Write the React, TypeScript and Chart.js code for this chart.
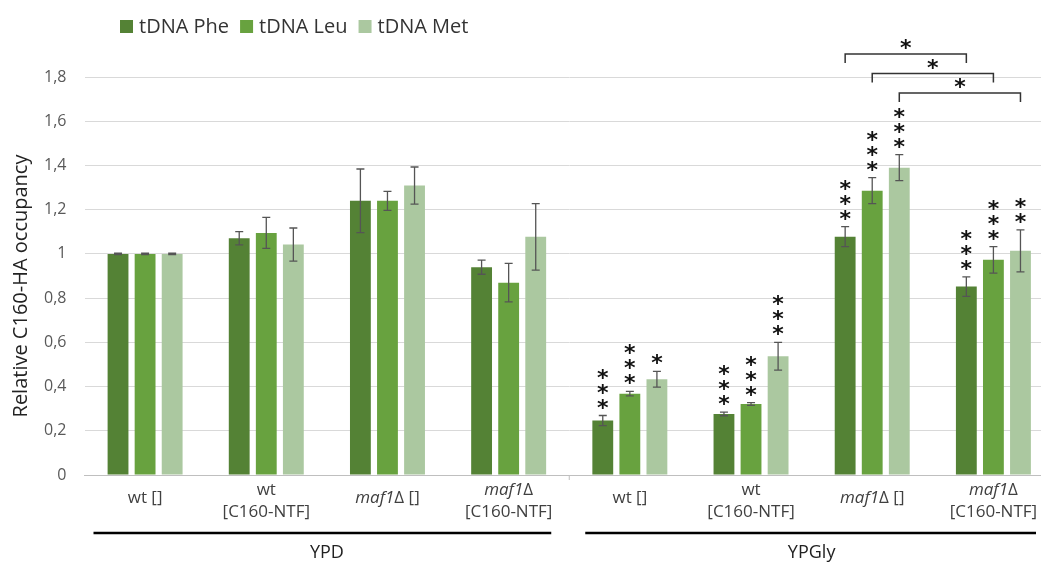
import React, { useEffect, useRef } from "react";
import { Chart, registerables } from "chart.js";

Chart.register(...registerables);

const categories = ["wt []", "wt [C160-NTF]", "maf1Δ []", "maf1Δ [C160-NTF]", "wt []", "wt [C160-NTF]", "maf1Δ []", "maf1Δ [C160-NTF]"];
const labelLines: { text: string; italic: string }[][] = [
  [{ italic: "", text: "wt []" }],
  [{ italic: "", text: "wt" }, { italic: "", text: "[C160-NTF]" }],
  [{ italic: "maf1", text: "Δ []" }],
  [{ italic: "maf1", text: "Δ" }, { italic: "", text: "[C160-NTF]" }],
  [{ italic: "", text: "wt []" }],
  [{ italic: "", text: "wt" }, { italic: "", text: "[C160-NTF]" }],
  [{ italic: "maf1", text: "Δ []" }],
  [{ italic: "maf1", text: "Δ" }, { italic: "", text: "[C160-NTF]" }],
];
const mediaGroups = ["YPD", "YPGly"];
const seriesNames = ["tDNA Phe", "tDNA Leu", "tDNA Met"];
const phe = [1.0, 1.071, 1.24, 0.94, 0.246, 0.276, 1.078, 0.852];
const leu = [1.0, 1.095, 1.24, 0.87, 0.368, 0.321, 1.286, 0.973];
const met = [1.0, 1.042, 1.309, 1.077, 0.433, 0.537, 1.39, 1.014];
const pheErr = [0.003, 0.03, 0.144, 0.032, 0.023, 0.008, 0.045, 0.044];
const leuErr = [0.003, 0.07, 0.043, 0.087, 0.01, 0.006, 0.059, 0.06];
const metErr = [0.003, 0.075, 0.084, 0.15, 0.036, 0.063, 0.059, 0.095];
const pheStars = [0, 0, 0, 0, 3, 3, 3, 3];
const leuStars = [0, 0, 0, 0, 3, 3, 3, 3];
const metStars = [0, 0, 0, 0, 1, 3, 3, 2];
// brackets: [series index, from category, to category, level]
const brackets = [
  [0, 6, 7, 0],
  [1, 6, 7, 1],
  [2, 6, 7, 2],
];
const yTicks = [0, 0.2, 0.4, 0.6, 0.8, 1, 1.2, 1.4, 1.6, 1.8];
const colors = ["#548235", "#68a23f", "#abc8a0"];

const FONT = "'Open Sans', 'Liberation Sans', sans-serif";

export default function App() {
  const ref = useRef<HTMLCanvasElement | null>(null);
  useEffect(() => {
    if (!ref.current) return;
    const errs = [pheErr, leuErr, metErr];
    const stars = [pheStars, leuStars, metStars];
    const overlay = {
      id: "overlay",
      afterDatasetsDraw(chart: any) {
        const ctx = chart.ctx;
        const y = chart.scales.y;
        const x = chart.scales.x;
        const area = chart.chartArea;
        ctx.save();
        // error bars
        ctx.strokeStyle = "#555555";
        ctx.lineWidth = 1.3;
        for (let d = 0; d < 3; d++) {
          const meta = chart.getDatasetMeta(d);
          const vals = chart.data.datasets[d].data;
          meta.data.forEach((bar: any, i: number) => {
            const v = vals[i];
            const e = errs[d][i];
            const yt = y.getPixelForValue(v + e);
            const yb = y.getPixelForValue(v - e);
            ctx.beginPath();
            ctx.moveTo(bar.x, yt);
            ctx.lineTo(bar.x, yb);
            ctx.moveTo(bar.x - 4, yt);
            ctx.lineTo(bar.x + 4, yt);
            ctx.moveTo(bar.x - 4, yb);
            ctx.lineTo(bar.x + 4, yb);
            ctx.stroke();
            // stars
            const n = stars[d][i];
            ctx.fillStyle = "#111";
            ctx.font = `bold 22px 'DejaVu Sans', sans-serif`;
            ctx.textAlign = "center";
            ctx.textBaseline = "alphabetic";
            for (let k = 0; k < n; k++) {
              ctx.fillText("*", bar.x, yt - 1 - k * 15);
            }
          });
        }
        // significance brackets
        ctx.strokeStyle = "#333";
        ctx.lineWidth = 1.5;
        brackets.forEach(([s, a, b, lvl]) => {
          const meta = chart.getDatasetMeta(s);
          const xa = meta.data[a].x;
          const xb = meta.data[b].x;
          const top = 54 + lvl * 19.5;
          ctx.beginPath();
          ctx.moveTo(xa, top + 9);
          ctx.lineTo(xa, top);
          ctx.lineTo(xb, top);
          ctx.lineTo(xb, top + 9);
          ctx.stroke();
          ctx.fillStyle = "#111";
          ctx.font = `bold 22px 'DejaVu Sans', sans-serif`;
          ctx.textAlign = "center";
          ctx.fillText("*", (xa + xb) / 2, top + 1);
        });
        // x axis tick at media boundary
        const cw = (area.right - area.left) / categories.length;
        ctx.strokeStyle = "#bfbfbf";
        ctx.lineWidth = 1;
        ctx.beginPath();
        ctx.moveTo(area.left + cw * 4, area.bottom);
        ctx.lineTo(area.left + cw * 4, area.bottom + 5);
        ctx.stroke();
        // category labels
        ctx.fillStyle = "#404040";
        ctx.textAlign = "left";
        ctx.textBaseline = "alphabetic";
        const fs = 17;
        labelLines.forEach((lines, i) => {
          const cx = x.getPixelForValue(i);
          lines.forEach((ln, li) => {
            const baseY = lines.length === 1 ? area.bottom + 28 : area.bottom + 20 + li * 22;
            ctx.font = `italic ${fs}px ${FONT}`;
            const wi = ctx.measureText(ln.italic).width;
            ctx.font = `${fs}px ${FONT}`;
            const wt = ctx.measureText(ln.text).width;
            const start = cx - (wi + wt) / 2;
            ctx.font = `italic ${fs}px ${FONT}`;
            ctx.fillText(ln.italic, start, baseY);
            ctx.font = `${fs}px ${FONT}`;
            ctx.fillText(ln.text, start + wi, baseY);
          });
        });
        // media lines and labels
        ctx.strokeStyle = "#000";
        ctx.lineWidth = 2.5;
        const leftOff = [9, 16];
        mediaGroups.forEach((g, gi) => {
          const l = area.left + cw * 4 * gi + leftOff[gi];
          const r = area.left + cw * 4 * (gi + 1) - 18;
          ctx.beginPath();
          ctx.moveTo(l, 533);
          ctx.lineTo(r, 533);
          ctx.stroke();
          ctx.fillStyle = "#222";
          ctx.font = `18px ${FONT}`;
          ctx.textAlign = "center";
          ctx.textBaseline = "middle";
          ctx.fillText(g, area.left + cw * (4 * gi + 2), 553);
        });
        // y title
        ctx.save();
        ctx.translate(21, (area.top + area.bottom) / 2 + 10);
        ctx.rotate(-Math.PI / 2);
        ctx.fillStyle = "#222";
        ctx.font = `20px ${FONT}`;
        ctx.textAlign = "center";
        ctx.textBaseline = "middle";
        ctx.fillText("Relative C160-HA occupancy", 0, 0);
        ctx.restore();
        // legend
        let lx = 120;
        ctx.font = `20px ${FONT}`;
        ctx.textAlign = "left";
        ctx.textBaseline = "middle";
        seriesNames.forEach((nm, i) => {
          ctx.fillStyle = colors[i];
          ctx.fillRect(lx, 20, 13, 13);
          ctx.fillStyle = "#333";
          ctx.fillText(nm, lx + 19, 27);
          lx += 19 + ctx.measureText(nm).width + 11;
        });
        ctx.restore();
      },
    };
    const chart = new Chart(ref.current, {
      type: "bar",
      data: {
        labels: categories,
        datasets: [phe, leu, met].map((d, i) => ({
          label: seriesNames[i],
          data: d,
          backgroundColor: colors[i],
          categoryPercentage: 0.67,
          barPercentage: 0.77,
        })),
      },
      options: {
        animation: false,
        responsive: false,
        layout: { padding: { top: 77, left: 0, right: 0, bottom: 0 } },
        plugins: { legend: { display: false }, tooltip: { enabled: false } },
        scales: {
          x: {
            grid: { display: false, drawTicks: false },
            border: { display: true, color: "#bfbfbf", width: 1 },
            ticks: { display: false },
            afterFit: (s: any) => {
              s.height = 89;
            },
          },
          y: {
            min: 0,
            max: 1.8,
            afterBuildTicks: (s: any) => {
              s.ticks = yTicks.map((v) => ({ value: v }));
            },
            grid: { color: "#d9d9d9", drawTicks: false, lineWidth: 1 },
            border: { display: false },
            ticks: {
              padding: 18,
              color: "#595959",
              font: { family: "'Open Sans', 'Liberation Sans', sans-serif", size: 16 },
              callback: (v: any) => String(Math.round(Number(v) * 10) / 10).replace(".", ","),
            },
            afterFit: (s: any) => {
              s.width = 84.5;
            },
          },
        },
      },
      plugins: [overlay],
    });
    return () => chart.destroy();
  }, []);
  return (
    <div style={{ position: "fixed", left: 0, top: 0, width: 1041, height: 564, overflow: "hidden", background: "#fff" }}>
      <canvas ref={ref} width={1054} height={564} style={{ display: "block", width: 1054, height: 564 }} />
    </div>
  );
}
